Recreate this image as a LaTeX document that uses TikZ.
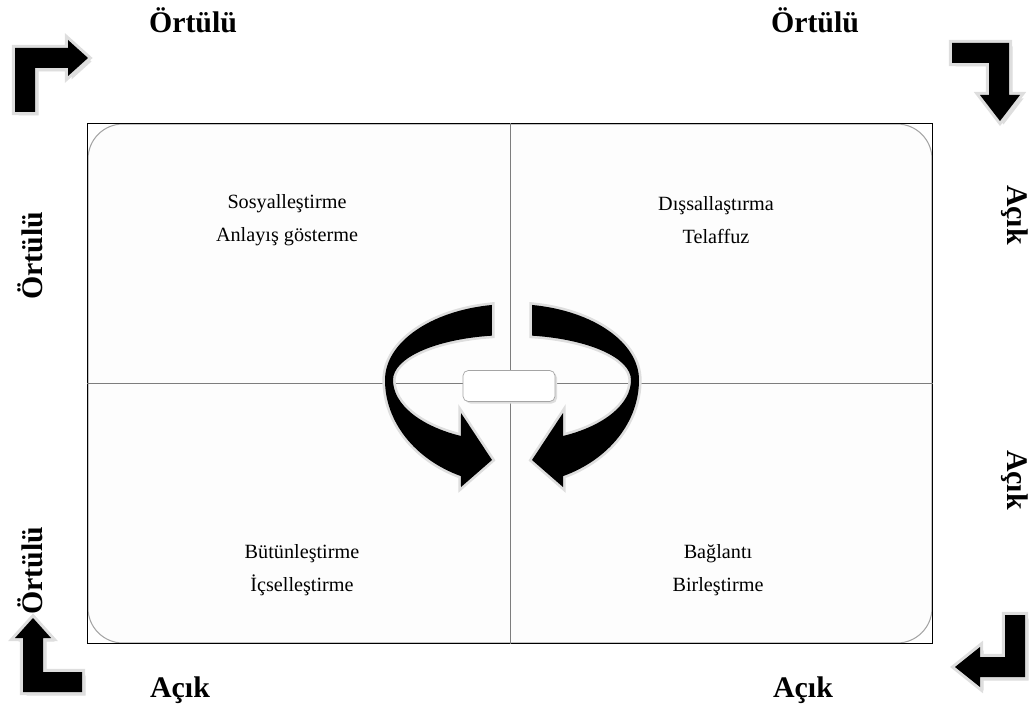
\documentclass[tikz,border=0pt]{standalone}
\usepackage{fontspec}
\setmainfont{Liberation Serif}
\usepackage{tikz}
\usetikzlibrary{positioning,calc}
\usepackage{xcolor}
\definecolor{linecol}{RGB}{125,125,125}
\definecolor{panelcol}{RGB}{253,253,253}
\definecolor{rimcol}{RGB}{165,165,165}
\definecolor{glowcol}{RGB}{222,222,222}

\begin{document}
\begin{tikzpicture}[
    sidetext/.style={font=\fontsize{17}{20}\selectfont\bfseries},
    phase/.style={font=\fontsize{11.5}{19}\selectfont, align=center},
    bent/.style={fill=black, line join=miter,
        preaction={fill=glowcol, transform canvas={shift={(0.07,-0.07)}}},
        preaction={draw=glowcol, line width=3.5pt}},
    ring/.style={fill=black, preaction={draw=glowcol, line width=3pt}},
    panel/.style={draw=rimcol, fill=panelcol, rounded corners=0.7cm, line width=0.6pt},
]
\useasboundingbox (0,0) rectangle (20.66,14.22);

% matrix frame
\node[panel, minimum width=16.88cm, minimum height=10.38cm] (frame) at (10.2,6.55) {};
\draw[line width=0.7pt] (frame.south west) rectangle (frame.north east);
\draw[linecol, line width=0.5pt] (frame.north) -- (frame.south);
\draw[linecol, line width=0.5pt] (frame.west) -- (frame.east);

% quadrant texts
\node[phase] (soc) at (5.74,9.82) {Sosyalleştirme\\Anlayış gösterme};
\node[phase] (ext) at (14.32,9.82) {Dışsallaştırma\\Telaffuz};
\node[phase] (int) at (6.04,2.82) {Bütünleştirme\\İçselleştirme};
\node[phase] (com) at (14.36,2.82) {Bağlantı\\Birleştirme};

% turning arrows in the middle
\foreach \s in {1,-1} {
\begin{scope}[shift={(10.24,6.62)}, xscale=\s]
\fill[ring] (99.1:2.54 and 1.52) arc[start angle=99.1, end angle=180, x radius=2.54, y radius=1.52]
    arc[start angle=180, end angle=246.3, x radius=2.54, y radius=2.1]
    -- (-1.02,-2.14) -- (-0.4,-1.6) -- (-1.02,-0.66) -- (244.6:2.38 and 1.24)
    arc[start angle=244.6, end angle=180, x radius=2.38, y radius=1.24]
    arc[start angle=180, end angle=99.7, x radius=2.38, y radius=0.9] -- cycle;
\end{scope}
}
\node[draw=rimcol, fill=white, rounded corners=3pt, minimum width=1.84cm, minimum height=0.62cm,
    preaction={fill=glowcol, transform canvas={shift={(0.04,-0.04)}}}] (hub) at (10.18,6.5) {};

% corner arrows
\fill[bent] (0.3,11.98) -- (0.3,13.26) -- (1.36,13.26) -- (1.36,13.42) -- (1.76,13.06) -- (1.36,12.7) -- (1.36,12.86) -- (0.7,12.86) -- (0.7,11.98) -- cycle;
\fill[bent] (19.04,13.36) -- (20.18,13.36) -- (20.18,12.32) -- (20.4,12.32) -- (20.0,11.8) -- (19.6,12.32) -- (19.78,12.32) -- (19.78,12.96) -- (19.04,12.96) -- cycle;
\fill[bent] (0.66,1.86) -- (1.02,1.46) -- (0.86,1.46) -- (0.86,0.78) -- (1.64,0.78) -- (1.64,0.38) -- (0.46,0.38) -- (0.46,1.46) -- (0.3,1.46) -- cycle;
\fill[bent] (20.1,1.92) -- (20.5,1.92) -- (20.5,0.68) -- (19.6,0.68) -- (19.6,0.48) -- (19.1,0.88) -- (19.6,1.28) -- (19.6,1.08) -- (20.1,1.08) -- cycle;

% axis labels
\node[sidetext] (top1) at (3.86,13.82) {Örtülü};
\node[sidetext] (top2) at (16.3,13.82) {Örtülü};
\node[sidetext] (bot1) at (3.6,0.42) {Açık};
\node[sidetext] (bot2) at (16.06,0.42) {Açık};
\node[sidetext, rotate=90] (left1) at (0.6,9.1) {Örtülü};
\node[sidetext, rotate=90] (left2) at (0.6,2.8) {Örtülü};
\node[sidetext, rotate=-90] (right1) at (20.3,9.92) {Açık};
\node[sidetext, rotate=-90] (right2) at (20.3,4.62) {Açık};
\end{tikzpicture}
\end{document}
